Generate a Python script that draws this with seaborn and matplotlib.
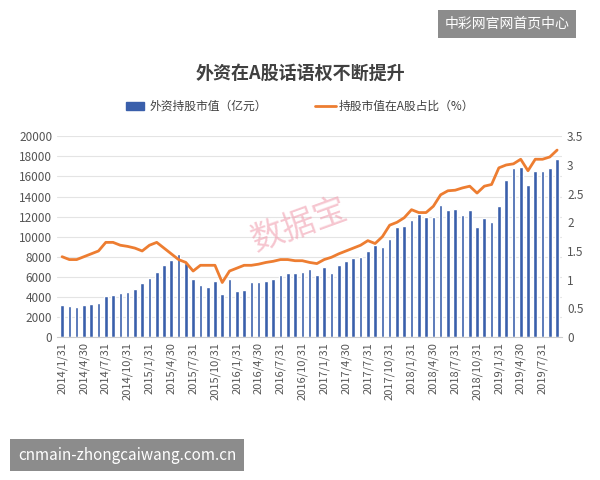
import pandas as pd
import numpy as np
import matplotlib
matplotlib.use("Agg")
import matplotlib.pyplot as plt
import seaborn as sns

# 外资持股市值（亿元）, monthly 2014/1 - 2019/9
holdings = [3180, 3100, 3000, 3180, 3250, 3400, 4100, 4200, 4400, 4500, 4800, 5350,
            5830, 6500, 7200, 7700, 8300, 7400, 5800, 5200, 5000, 5600, 4300, 5800,
            4600, 4700, 5500, 5500, 5600, 5800, 6200, 6400, 6400, 6500, 6800, 6200,
            7000, 6330, 7200, 7600, 7900, 7950, 8600, 9150, 9000, 9750, 10950, 11100,
            11650, 12250, 12000, 12000, 13150, 12700, 12800, 12150, 12650, 11000, 11900, 11450,
            13100, 15600, 16850, 16950, 15100, 16500, 16500, 16850, 17700]
# 持股市值在A股占比（%）
share = [1.4, 1.35, 1.35, 1.4, 1.45, 1.5, 1.65, 1.65, 1.6, 1.58, 1.55, 1.5,
         1.6, 1.65, 1.55, 1.45, 1.35, 1.3, 1.15, 1.25, 1.25, 1.25, 0.95, 1.15,
         1.2, 1.25, 1.25, 1.27, 1.3, 1.32, 1.35, 1.35, 1.33, 1.33, 1.3, 1.28,
         1.35, 1.39, 1.45, 1.5, 1.55, 1.6, 1.68, 1.63, 1.75, 1.95, 2.0, 2.08,
         2.22, 2.17, 2.17, 2.28, 2.48, 2.55, 2.56, 2.6, 2.63, 2.51, 2.63, 2.66,
         2.95, 3.0, 3.02, 3.1, 2.9, 3.1, 3.1, 3.14, 3.26]

dates = pd.date_range("2014-01-31", periods=len(holdings), freq="ME")
labels = [f"{d.year}/{d.month}/{d.day}" for d in dates]
df = pd.DataFrame({"date": labels, "holdings": holdings, "share": share})

sns.set_style("white")
plt.rcParams["font.family"] = ["Noto Sans CJK SC", "DejaVu Sans"]

fig = plt.figure(figsize=(6, 4.8), dpi=100)
ax = fig.add_axes([0.095, 0.298, 0.842, 0.418])
sns.barplot(data=df, x="date", y="holdings", color="#3a5fab", width=0.5, ax=ax,
            saturation=1, zorder=2)
ax.set_ylim(0, 20000)
ax.set_yticks(range(0, 20001, 2000))
ax.grid(axis="y", color="#e4e4e4", linewidth=0.8, zorder=0)
ax.set_xlabel("")
ax.set_ylabel("")
ax.set_xticks(range(0, len(labels), 3))
ax.set_xticklabels(labels[::3], rotation=90, fontsize=8, color="#555555")
ax.tick_params(axis="y", labelsize=8.5, labelcolor="#555555", length=0)
ax.tick_params(axis="x", length=0)
for s in ["top", "right", "left"]:
    ax.spines[s].set_visible(False)
ax.spines["bottom"].set_color("#cccccc")

ax2 = ax.twinx()
sns.lineplot(x=np.arange(len(share)), y=share, color="#ed7d31", linewidth=2, ax=ax2)
ax2.set_ylim(0, 3.5)
ax2.set_yticks([0, 0.5, 1, 1.5, 2, 2.5, 3, 3.5])
ax2.set_yticklabels(["0", "0.5", "1", "1.5", "2", "2.5", "3", "3.5"])
ax2.tick_params(axis="y", labelsize=8.5, labelcolor="#555555", length=0)
for s in ax2.spines.values():
    s.set_visible(False)
ax.set_xlim(-0.7, len(labels) - 0.3)

fig.text(0.5, 0.835, "外资在A股话语权不断提升", ha="center", fontsize=13,
         fontweight="bold", color="#404040")
fig.patches.append(plt.Rectangle((0.21, 0.77), 0.03, 0.018, color="#3a5fab",
                                 transform=fig.transFigure))
fig.text(0.25, 0.779, "外资持股市值（亿元）", va="center", fontsize=8.5, color="#404040")
fig.lines.append(plt.Line2D([0.525, 0.56], [0.779, 0.779], color="#ed7d31", lw=2,
                            transform=fig.transFigure))
fig.text(0.565, 0.779, "持股市值在A股占比（%）", va="center", fontsize=8.5, color="#404040")

fig.text(0.5, 0.53, "数据宝", fontsize=24, color="#f0a0b0", alpha=0.6, rotation=20,
         ha="center", va="center")

fig.text(0.845, 0.95, "中彩网官网首页中心", ha="center", va="center", fontsize=10,
         color="white", bbox=dict(boxstyle="square,pad=0.5", fc="#8c8c8c", ec="none"))
fig.text(0.03, 0.052, "cnmain-zhongcaiwang.com.cn", ha="left", va="center", fontsize=11,
         color="white", bbox=dict(boxstyle="square,pad=0.5", fc="#8c8c8c", ec="none"))

fig.savefig("out.png", dpi=100)
